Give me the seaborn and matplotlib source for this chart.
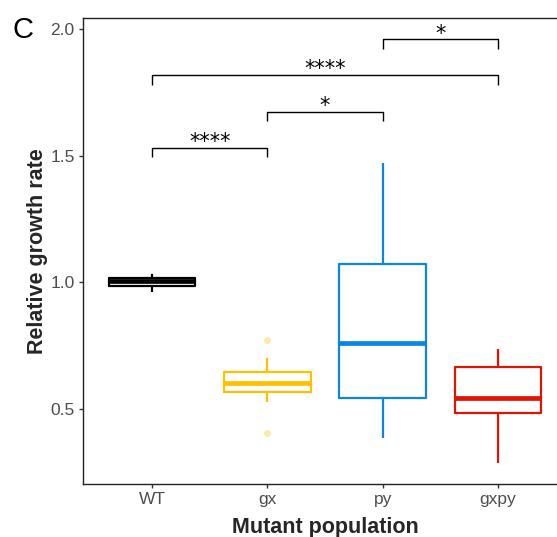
import matplotlib
matplotlib.use("Agg")
import matplotlib.pyplot as plt
import seaborn as sns
import pandas as pd

# ---- data ----
categories = ["WT", "gx", "py", "gxpy"]
wt_values = [0.962, 0.984, 1.005, 1.018, 1.031]
gx_values = [0.405, 0.528, 0.567, 0.585, 0.603, 0.625, 0.645, 0.700, 0.772]
py_values = [0.385, 0.543, 0.760, 1.072, 1.471]
gxpy_values = [0.287, 0.484, 0.543, 0.666, 0.737]
colors = ["#000000", "#FFC000", "#0A86E4", "#E01405"]

# significance comparisons
comp_left = ["WT", "gx", "WT", "py"]
comp_right = ["gx", "py", "gxpy", "gxpy"]
comp_labels = ["****", "*", "****", "*"]
comp_levels = [1.531, 1.673, 1.818, 1.959]

values_by_cat = [wt_values, gx_values, py_values, gxpy_values]
df = pd.DataFrame({
    "group": [c for c, vals in zip(categories, values_by_cat) for _ in vals],
    "value": [v for vals in values_by_cat for v in vals],
})

sns.set_style("white")
plt.rcParams["font.family"] = ["Liberation Sans", "DejaVu Sans"]

fig = plt.figure(figsize=(5.57, 5.37), dpi=100)
ax = fig.add_axes([83 / 557, 1 - 484 / 537, (567 - 83) / 557, (484 - 18) / 537])

sns.boxplot(
    data=df, x="group", y="value", hue="group", order=categories,
    hue_order=categories, palette=colors, fill=False, width=0.75,
    linewidth=1.6, showcaps=False, legend=False, ax=ax,
    medianprops={"linewidth": 3.4},
    flierprops={"marker": "o", "markersize": 5, "alpha": 0.35,
                "markerfacecolor": colors[1], "markeredgecolor": "none"},
)

ax.set_xlim(-0.6, 3.6)
ax.set_ylim(0.204, 2.043)
ax.set_yticks([0.5, 1.0, 1.5, 2.0])
ax.set_yticklabels(["0.5", "1.0", "1.5", "2.0"])

pos = {c: i for i, c in enumerate(categories)}
tick = 0.038
for l, r, lab, yv in zip(comp_left, comp_right, comp_labels, comp_levels):
    x1, x2 = pos[l], pos[r]
    ax.plot([x1, x1, x2, x2], [yv - tick, yv, yv, yv - tick], color="black",
            linewidth=1.0, solid_capstyle="butt")
    ax.text((x1 + x2) / 2, yv + 0.022, lab, ha="center", va="center",
            fontsize=15, color="black", family="DejaVu Sans")

for s in ["left", "bottom", "top"]:
    ax.spines[s].set_visible(True)
    ax.spines[s].set_color("#222222")
    ax.spines[s].set_linewidth(1.0)
ax.spines["right"].set_visible(False)

ax.tick_params(axis="both", which="both", length=3, width=1, color="#333333",
               labelcolor="#4D4D4D", labelsize=12.5, pad=3,
               bottom=True, left=True)
ax.set_xlabel("Mutant population", fontsize=15.5, fontweight="bold", labelpad=7)
ax.set_ylabel("Relative growth rate", fontsize=15.5, fontweight="bold", labelpad=2)

fig.text(12 / 557, 1 - 38 / 537, "C", fontsize=21, color="black", ha="left", va="baseline")

fig.savefig("out.png", dpi=100)
